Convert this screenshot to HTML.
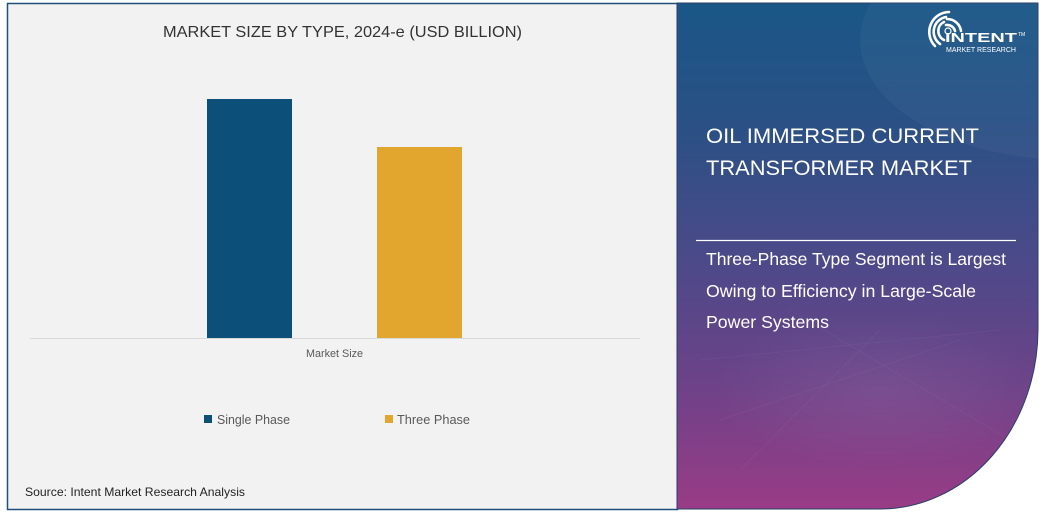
<!DOCTYPE html>
<html><head><meta charset="utf-8">
<style>
html,body{margin:0;padding:0;background:#ffffff;}
svg{display:block;}
</style></head>
<body>
<svg width="1043" height="513" viewBox="0 0 1043 513" xmlns="http://www.w3.org/2000/svg">
<defs>
<linearGradient id="pg" x1="0" y1="0" x2="0" y2="1">
<stop offset="0" stop-color="#195786"/>
<stop offset="0.25" stop-color="#2b5085"/>
<stop offset="0.5" stop-color="#4b4a89"/>
<stop offset="0.75" stop-color="#6c4288"/>
<stop offset="1" stop-color="#993c86"/>
</linearGradient>
<radialGradient id="glow" cx="0.5" cy="0.5" r="0.5">
<stop offset="0" stop-color="#ffffff" stop-opacity="0.07"/>
<stop offset="1" stop-color="#ffffff" stop-opacity="0"/>
</radialGradient>
<clipPath id="pc"><path d="M677,3 L1038,3 L1038,330 A158,180 0 0 1 880,509 L677,509 Z"/></clipPath>
</defs>
<!-- left panel -->
<rect x="7.5" y="3.5" width="670" height="506" fill="#f2f2f2" stroke="#1f4e79" stroke-width="1.5"/>
<!-- right panel -->
<path d="M677,3 L1038,3 L1038,330 A158,180 0 0 1 880,509 L677,509 Z" fill="url(#pg)" stroke="#2a3f6a" stroke-width="1"/>
<g clip-path="url(#pc)">
<ellipse cx="1070" cy="40" rx="210" ry="120" fill="#ffffff" opacity="0.035"/>
<ellipse cx="880" cy="390" rx="170" ry="80" fill="url(#glow)"/>
<g stroke="#ffffff" stroke-opacity="0.05" stroke-width="0.7">
<line x1="700" y1="360" x2="1000" y2="330"/>
<line x1="720" y1="420" x2="960" y2="340"/>
<line x1="790" y1="310" x2="1010" y2="440"/>
<line x1="880" y1="330" x2="740" y2="470"/>
</g>
</g>
<!-- title -->
<text x="163" y="37" font-family="Liberation Sans, sans-serif" font-size="16" fill="#333333" textLength="359" lengthAdjust="spacingAndGlyphs">MARKET SIZE BY TYPE, 2024-e (USD BILLION)</text>
<!-- bars -->
<rect x="207" y="99" width="85" height="239" fill="#0c5079"/>
<rect x="377" y="147" width="85" height="191" fill="#e2a52e"/>
<line x1="30" y1="338.5" x2="640" y2="338.5" stroke="#d9d9d9" stroke-width="1"/>
<text x="306" y="357" font-family="Liberation Sans, sans-serif" font-size="11" fill="#595959" textLength="57" lengthAdjust="spacingAndGlyphs">Market Size</text>
<!-- legend -->
<rect x="204" y="415" width="8" height="8" fill="#0c5079"/>
<text x="217" y="424" font-family="Liberation Sans, sans-serif" font-size="13" fill="#595959" textLength="73" lengthAdjust="spacingAndGlyphs">Single Phase</text>
<rect x="385" y="415" width="8" height="8" fill="#e2a52e"/>
<text x="397" y="424" font-family="Liberation Sans, sans-serif" font-size="13" fill="#595959" textLength="73" lengthAdjust="spacingAndGlyphs">Three Phase</text>
<!-- source -->
<text x="25" y="496" font-family="Liberation Sans, sans-serif" font-size="12" fill="#222222" textLength="220" lengthAdjust="spacingAndGlyphs">Source: Intent Market Research Analysis</text>
<!-- right panel text -->
<text x="706" y="143" font-family="Liberation Sans, sans-serif" font-size="21" fill="#ffffff" textLength="273" lengthAdjust="spacingAndGlyphs">OIL IMMERSED CURRENT</text>
<text x="706" y="175" font-family="Liberation Sans, sans-serif" font-size="21" fill="#ffffff" textLength="266" lengthAdjust="spacingAndGlyphs">TRANSFORMER MARKET</text>
<line x1="696" y1="240.5" x2="1016" y2="240.5" stroke="#ffffff" stroke-width="1.2"/>
<text x="706" y="265" font-family="Liberation Sans, sans-serif" font-size="17.5" fill="#ffffff" textLength="300" lengthAdjust="spacingAndGlyphs">Three-Phase Type Segment is Largest</text>
<text x="706" y="297" font-family="Liberation Sans, sans-serif" font-size="17.5" fill="#ffffff" textLength="270" lengthAdjust="spacingAndGlyphs">Owing to Efficiency in Large-Scale</text>
<text x="706" y="328" font-family="Liberation Sans, sans-serif" font-size="17.5" fill="#ffffff" textLength="123" lengthAdjust="spacingAndGlyphs">Power Systems</text>
<!-- logo -->
<g fill="none" stroke="#ffffff" stroke-width="2.6" stroke-linecap="round">
<path d="M944,40 A10,10 0 0 1 944,22"/>
<path d="M940,44 A15,15 0 0 1 946,17"/>
<path d="M935,46 A20,20 0 0 1 949,12" />
<path d="M946,25 A8,8 0 0 1 955,31"/>
<path d="M947,19 A14,14 0 0 1 961,31"/>
</g>
<circle cx="948" cy="31" r="3" fill="none" stroke="#ffffff" stroke-width="1.2"/>
<text x="945" y="42" font-family="Liberation Sans, sans-serif" font-size="13" font-weight="bold" fill="#ffffff" textLength="72" lengthAdjust="spacingAndGlyphs">INTENT</text>
<text x="1018" y="36" font-family="Liberation Sans, sans-serif" font-size="5" fill="#ffffff">TM</text>
<text x="946" y="52" font-family="Liberation Sans, sans-serif" font-size="7" fill="#ffffff" textLength="70" lengthAdjust="spacingAndGlyphs">MARKET RESEARCH</text>
</svg>
</body></html>
